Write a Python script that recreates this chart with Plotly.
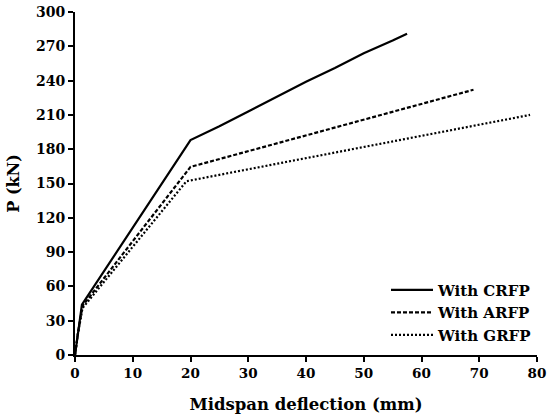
import plotly.graph_objects as go

# Data
crfp_x = [0, 0.5, 1.2, 20, 25, 30, 35, 40, 45, 50, 55, 57.5]
crfp_y = [0, 20, 44, 188, 200, 213, 226, 239, 251, 264, 275, 281]

arfp_x = [0, 0.5, 1.3, 20, 69]
arfp_y = [0, 19, 43, 164.5, 232]

grfp_x = [0, 0.5, 1.3, 19.3, 78.8]
grfp_y = [0, 18, 41, 152, 210]

x_ticks = [0, 10, 20, 30, 40, 50, 60, 70, 80]
y_ticks = [0, 30, 60, 90, 120, 150, 180, 210, 240, 270, 300]

FONT = "DejaVu Serif, serif"

fig = go.Figure()
fig.add_trace(go.Scatter(x=crfp_x, y=crfp_y, mode="lines", name="With CRFP",
                         line=dict(color="black", width=2.2)))
fig.add_trace(go.Scatter(x=arfp_x, y=arfp_y, mode="lines", name="With ARFP",
                         line=dict(color="black", width=2.2, dash="4px,2px")))
fig.add_trace(go.Scatter(x=grfp_x, y=grfp_y, mode="lines", name="With GRFP",
                         line=dict(color="black", width=2.2, dash="2px,2px")))

axis_common = dict(
    showgrid=False, zeroline=False, showline=True, linecolor="black", linewidth=2,
    ticks="outside", ticklen=5, tickwidth=2, tickcolor="black",
    ticklabeloverflow="allow", automargin=False,
)

fig.update_xaxes(range=[0, 80], tickvals=x_ticks,
                 tickfont=dict(family=FONT, size=13.5, color="black", weight="bold"),
                 title=dict(text="Midspan deflection (mm)", standoff=18,
                            font=dict(family=FONT, size=16.5, color="black", weight="bold")),
                 **axis_common)
fig.update_yaxes(range=[0, 300], tickvals=y_ticks,
                 tickfont=dict(family=FONT, size=14, color="black", weight="bold"),
                 title=dict(text="P (kN)", standoff=12,
                            font=dict(family=FONT, size=16, color="black", weight="bold")),
                 **axis_common)

fig.update_layout(
    width=547, height=416,
    margin=dict(l=75, r=10, t=12, b=61),
    plot_bgcolor="white", paper_bgcolor="white",
    legend=dict(x=1.0, y=0.01, xanchor="right", yanchor="bottom",
                bgcolor="rgba(0,0,0,0)", tracegroupgap=0, itemwidth=42,
                font=dict(family=FONT, size=15, color="black", weight="bold")),
)

fig.write_html("out.html", config={"displayModeBar": False},
               post_script="document.body.style.margin='0';document.body.style.overflow='hidden';")
